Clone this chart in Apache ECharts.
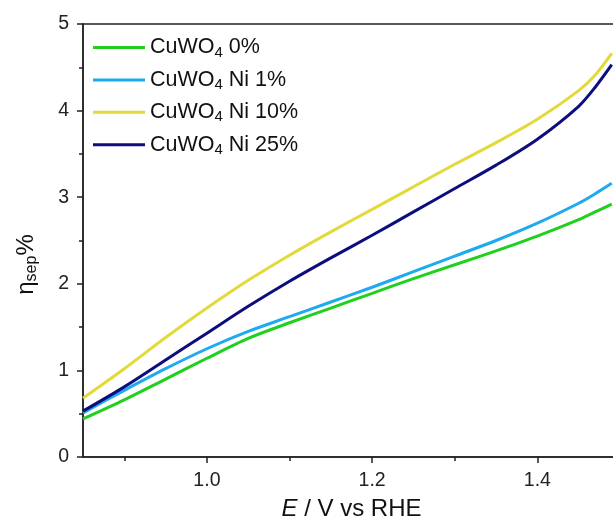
<!DOCTYPE html>
<html>
<head>
    <meta charset="utf-8">
    <title>eta sep</title>
    <script src="https://cdn.jsdelivr.net/npm/echarts@6/dist/echarts.min.js"></script>
</head>
<body style="margin:0;">

<div id="main" style="width: 613px;height:524px;"></div>

<script type="text/javascript">
    // potential (V vs RHE)
    var potential = [0.85, 0.90, 0.95, 1.00, 1.05, 1.10, 1.15, 1.20, 1.25, 1.30, 1.35, 1.40, 1.45, 1.47, 1.49];

    var names = ['CuWO4 0%', 'CuWO4 Ni 1%', 'CuWO4 Ni 10%', 'CuWO4 Ni 25%'];
    var colors = ['#1fd01f', '#1eaaf0', '#e3da3a', '#0d0d7e'];

    var ni0  = [0.44, 0.66, 0.90, 1.14, 1.37, 1.55, 1.72, 1.89, 2.06, 2.22, 2.38, 2.55, 2.74, 2.83, 2.92];
    var ni1  = [0.51, 0.77, 1.02, 1.25, 1.45, 1.62, 1.79, 1.96, 2.14, 2.32, 2.50, 2.70, 2.93, 3.04, 3.16];
    var ni10 = [0.68, 1.02, 1.38, 1.72, 2.04, 2.33, 2.60, 2.86, 3.12, 3.38, 3.63, 3.90, 4.23, 4.41, 4.66];
    var ni25 = [0.53, 0.81, 1.12, 1.43, 1.74, 2.03, 2.30, 2.56, 2.83, 3.10, 3.37, 3.67, 4.05, 4.27, 4.53];

    var values = [ni0, ni1, ni10, ni25];

    // x tick positions
    var xMajor = [1.0, 1.2, 1.4];
    var xMinor = [0.9, 1.1, 1.3, 1.5];

    var myChart = echarts.init(document.getElementById('main'));

    var font = 'Liberation Sans, Arial, sans-serif';

    var series = [];
    for (var i = 0; i < names.length; i++) {
        var pts = [];
        for (var j = 0; j < potential.length; j++) {
            pts.push([potential[j], values[i][j]]);
        }
        series.push({
            name: names[i],
            type: 'line',
            xAxisIndex: 0,
            data: pts,
            smooth: 0.3,
            showSymbol: false,
            lineStyle: {color: colors[i], width: 3},
            itemStyle: {color: colors[i]}
        });
    }

    option = {
        animation: false,
        backgroundColor: '#fff',
        grid: {
            left: 83, top: 24, bottom: 67, right: -7,
            outerBoundsMode: 'none',
            show: true, borderColor: '#222', borderWidth: 1.5
        },
        legend: {
            orient: 'vertical',
            left: 88, top: 30,
            icon: 'rect',
            itemWidth: 52, itemHeight: 3,
            itemGap: 7.4,
            data: names,
            formatter: function (n) {
                return '{a|CuWO}{s|4}{a|' + n.slice(5) + '}';
            },
            textStyle: {
                color: '#111',
                fontFamily: font,
                rich: {
                    a: {fontSize: 21.5, fontFamily: font, color: '#111', lineHeight: 24},
                    s: {fontSize: 15, fontFamily: font, color: '#111', padding: [10, 0, 0, 0], lineHeight: 24}
                }
            }
        },
        xAxis: [{
            type: 'value',
            min: 0.85, max: 1.5,
            name: '{i|E} / V vs RHE',
            nameLocation: 'middle',
            nameGap: 40,
            nameTextStyle: {
                fontSize: 24, fontFamily: font, color: '#111',
                rich: {
                    i: {fontSize: 24, fontStyle: 'italic', fontFamily: font, color: '#111'}
                }
            },
            axisLine: {lineStyle: {color: '#222', width: 1.5}},
            axisTick: {inside: false, length: 6, customValues: xMajor, lineStyle: {color: '#222', width: 1.5}},
            axisLabel: {
                fontSize: 19.5, fontFamily: font, color: '#222', margin: 14,
                customValues: xMajor,
                formatter: function (v) { return v.toFixed(1); }
            },
            splitLine: {show: false}
        }, {
            type: 'value',
            min: 0.85, max: 1.5,
            position: 'bottom',
            axisLine: {show: false},
            axisTick: {inside: false, length: 4, customValues: xMinor, lineStyle: {color: '#222', width: 1.5}},
            axisLabel: {show: false},
            splitLine: {show: false}
        }],
        yAxis: {
            type: 'value',
            min: 0, max: 5, interval: 1,
            name: '{e|η}{s|sep}{e|%}',
            nameLocation: 'middle',
            nameGap: 43,
            nameTextStyle: {
                color: '#111',
                padding: [0, 48, 0, 0],
                rich: {
                    e: {fontSize: 24, fontFamily: font, color: '#111'},
                    s: {fontSize: 16, fontFamily: font, color: '#111', padding: [12, 0, 0, 0]}
                }
            },
            axisLine: {lineStyle: {color: '#222', width: 1.5}},
            axisTick: {inside: false, length: 6, lineStyle: {color: '#222', width: 1.5}},
            minorTick: {show: true, splitNumber: 2, length: 4, lineStyle: {color: '#222', width: 1.5}},
            axisLabel: {fontSize: 19.5, fontFamily: font, color: '#222', margin: 14},
            splitLine: {show: false}
        },
        series: series
    };

    myChart.setOption(option);
</script>
</body>
</html>
